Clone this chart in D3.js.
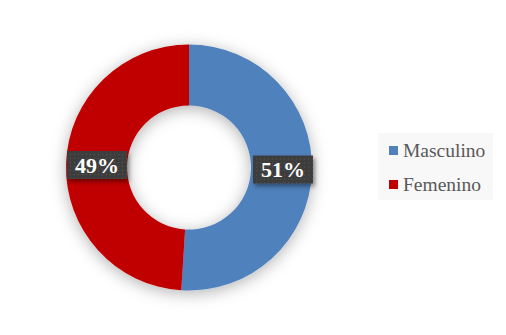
<!DOCTYPE html>
<html><head><meta charset="utf-8">
<script src="https://cdn.jsdelivr.net/npm/d3@7"></script>
<style>body{margin:0;background:#fff;}svg{display:block;}</style>
</head><body>
<script>
const categories = ["Masculino", "Femenino"];
const values = [51, 49];
const colors = ["#4F81BD", "#C00000"];

const W = 506, H = 335;
const svg = d3.select("body").append("svg").attr("width", W).attr("height", H);
const defs = svg.append("defs");
svg.append("rect").attr("width",W).attr("height",H).attr("fill","#fff");

const pat = defs.append("pattern").attr("id","dots").attr("width",4).attr("height",4).attr("patternUnits","userSpaceOnUse");
pat.append("rect").attr("width",4).attr("height",4).attr("fill","#3d3d3d");
pat.append("rect").attr("x",1).attr("y",1).attr("width",1).attr("height",1).attr("fill","#555");

const glow = defs.append("filter").attr("id","glow").attr("x","-30%").attr("y","-30%").attr("width","160%").attr("height","160%");
glow.append("feDropShadow").attr("dx",0).attr("dy",3).attr("stdDeviation",8).attr("flood-color","#000").attr("flood-opacity",0.3);

const sh = defs.append("filter").attr("id","sh").attr("x","-20%").attr("y","-20%").attr("width","150%").attr("height","160%");
sh.append("feDropShadow").attr("dx",2).attr("dy",3).attr("stdDeviation",2).attr("flood-color","#000").attr("flood-opacity",0.4);

const cx = 189, cy = 167.5, R = 123, r = 62;
const pie = d3.pie().sort(null).value(d => d);
const arc = d3.arc().innerRadius(r).outerRadius(R);
const g = svg.append("g").attr("transform", `translate(${cx},${cy})`).attr("filter","url(#glow)");
const arcs = pie(values);
g.selectAll("path").data(arcs).join("path")
  .attr("d", arc).attr("fill", (d,i) => colors[i]);

// labels
const labelPos = [[283, 169.5], [97, 165]];
arcs.forEach((d,i) => {
  const [lx, ly] = labelPos[i];
  const txt = Math.round(d.data) + "%";
  const lg = svg.append("g").attr("transform", `translate(${lx},${ly})`);
  lg.append("rect").attr("x",-30).attr("y",-14).attr("width",60).attr("height",28)
    .attr("fill","url(#dots)").attr("filter","url(#sh)");
  lg.append("text").attr("text-anchor","middle").attr("dy","0.36em")
    .attr("font-family","'Liberation Serif','DejaVu Serif',serif").attr("font-weight","bold")
    .attr("font-size",22).attr("fill","#fff").text(txt);
});

// legend
const leg = svg.append("g").attr("transform","translate(378,133)");
leg.append("rect").attr("width",115).attr("height",67).attr("fill","#f8f8f8");
categories.forEach((c,i) => {
  const y = 13 + i*34;
  leg.append("rect").attr("x",11).attr("y",y).attr("width",9).attr("height",9).attr("fill",colors[i]);
  leg.append("text").attr("x",25).attr("y",y+11).attr("font-family","'Liberation Serif','DejaVu Serif',serif")
    .attr("font-size",19.5).attr("fill","#595959").text(c);
});
</script>
</body></html>
